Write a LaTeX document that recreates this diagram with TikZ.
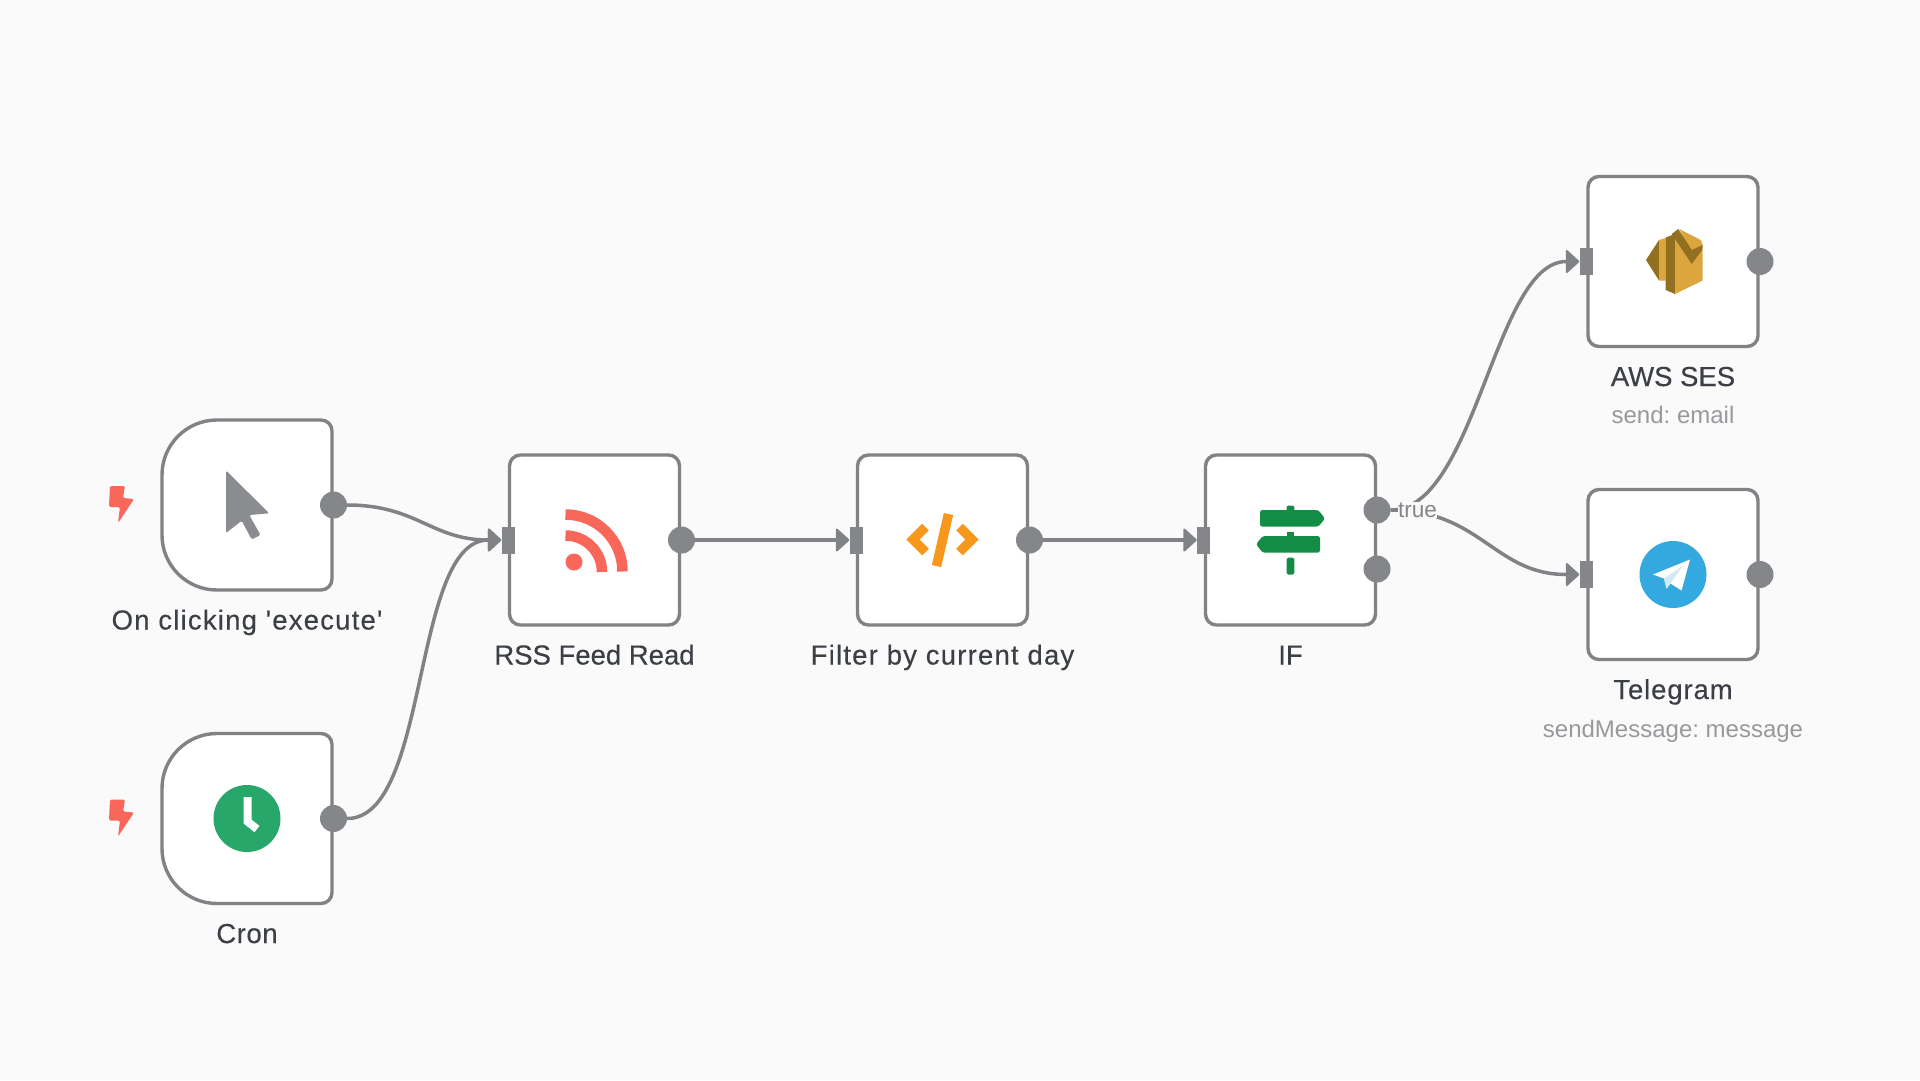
\documentclass[tikz,border=0pt]{standalone}
\usepackage{fontspec}
\setmainfont{Liberation Sans}
\newfontfamily\titlefont{Liberation Sans}[FakeBold=0.3]
\usetikzlibrary{arrows.meta}
\definecolor{bgc}{HTML}{FAFAFA}
\definecolor{linec}{HTML}{808285}
\definecolor{dotc}{HTML}{84868A}
\definecolor{txt}{HTML}{3C3F45}
\definecolor{subt}{HTML}{97999C}
\definecolor{boltc}{HTML}{F9675A}
\definecolor{greenc}{HTML}{28A76A}
\definecolor{ifg}{HTML}{138C45}
\definecolor{orangec}{HTML}{F7981D}
\definecolor{awsl}{HTML}{DCA63F}
\definecolor{awsd}{HTML}{93701F}
\definecolor{tgc}{HTML}{33A9E0}
\newcommand{\spaced}[2]{{\addfontfeature{LetterSpace=#1}#2}}
\tikzset{
  plainbox/.style={draw=linec,fill=white,line width=3.4pt,rounded corners=11pt,minimum width=170pt,minimum height=170pt,inner sep=0pt},
  ghostbox/.style={minimum width=170pt,minimum height=170pt,inner sep=0pt},
  trigshape/.style={draw=linec,fill=white,line width=3.4pt},
  outdot/.style={circle,fill=dotc,minimum size=27pt,inner sep=0pt},
  inrect/.style={rectangle,fill=dotc,minimum width=13pt,minimum height=27pt,inner sep=0pt},
  wire/.style={draw=linec,line width=3.5pt,-{Triangle[length=14pt,width=25pt,round,line width=2pt]}},
  title/.style={text=txt,font=\fontsize{27.5}{33}\titlefont\frenchspacing,inner sep=0pt,anchor=base},
  subtitle/.style={text=subt,font=\fontsize{24}{28}\selectfont\frenchspacing,inner sep=0pt,anchor=base},
  edgelabel/.style={text=dotc,font=\fontsize{22.6}{27}\selectfont,inner sep=0pt,fill=bgc,text height=15pt,text depth=1pt},
  boltpic/.pic={\fill[boltc,rounded corners=1.5pt] (-11,-18) -- (4,-18) -- (2,-6) -- (13,-5) -- (-3,19) -- (-1,3) -- (-12,3) -- cycle;}
}
\newcommand{\trigbox}[1]{%
  \begin{scope}[shift={(#1.center)}]
  \draw[trigshape] (-30,-85) -- (74,-85) .. controls (80.1,-85) and (85,-80.1) .. (85,-74) -- (85,74)
    .. controls (85,80.1) and (80.1,85) .. (74,85) -- (-30,85)
    .. controls (-60.4,85) and (-85,60.4) .. (-85,30) -- (-85,-30)
    .. controls (-85,-60.4) and (-60.4,-85) .. (-30,-85) -- cycle;
  \end{scope}}
\begin{document}
\begin{tikzpicture}[x=1pt,y=-1pt]
\useasboundingbox (0,0) rectangle (1920,1080);
\fill[bgc] (0,0) rectangle (1920,1080);

% node bodies
\node[ghostbox] (click) at (247,505) {};
\node[ghostbox] (cron) at (247,818.5) {};
\trigbox{click}
\trigbox{cron}
\node[plainbox] (rss) at (594.5,540) {};
\node[plainbox] (filter) at (942.5,540) {};
\node[plainbox] (ifn) at (1290.5,540) {};
\node[plainbox] (ses) at (1673,261.5) {};
\node[plainbox] (tg) at (1673,574.5) {};

% ports
\node[outdot] (clickOut) at (333.5,505) {};
\node[outdot] (cronOut) at (333.5,818.5) {};
\node[inrect] (rssIn) at (508,540) {};
\node[outdot] (rssOut) at (681.5,540) {};
\node[inrect] (filterIn) at (856,540) {};
\node[outdot] (filterOut) at (1029.5,540) {};
\node[inrect] (ifIn) at (1203.5,540) {};
\node[outdot] (ifTrue) at (1377,510) {};
\node[outdot] (ifFalse) at (1377,569) {};
\node[inrect] (sesIn) at (1586,261.5) {};
\node[outdot] (sesOut) at (1760,261.5) {};
\node[inrect] (tgIn) at (1586,574.5) {};
\node[outdot] (tgOut) at (1760,574.5) {};

% connectors
\draw[wire] (clickOut.east) .. controls +(70,0) and +(-70,0) .. (rssIn.west);
\draw[wire] (cronOut.east) .. controls +(83,0) and +(-90,0) .. (rssIn.west);
\draw[wire] (rssOut) -- (filterIn);
\draw[wire] (filterOut) -- (ifIn);
\draw[wire] (ifTrue.east) .. controls +(85,0) and +(-85,0) .. (sesIn.west);
\draw[wire] (ifTrue.east) .. controls +(90,0) and +(-85,0) .. (tgIn.west);
\node[edgelabel] (trueLabel) at (1417.5,510) {true};

% bolts
\pic at (121,504) {boltpic};
\pic at (121,817.5) {boltpic};

% cursor icon
\begin{scope}[shift={(click.center)}]
\fill[fill=dotc!95!white,rounded corners=1.5pt] (-21,-34.5) -- (22.3,8.3) -- (2.3,10) -- (13.5,30) -- (4.7,34.5) -- (-5.3,15.7) -- (-21,28) -- cycle;
\end{scope}

% clock icon
\fill[greenc] (cron.center) circle[radius=33.5];
\begin{scope}[shift={(cron.center)}]
\draw[white,line width=8pt,miter limit=4] (0.5,-21.5) -- (0.5,3) -- (10,10.5);
\end{scope}

% rss icon
\begin{scope}[shift={(rss.center)}]
\fill[boltc] (-20.5,22) circle[radius=8.5];
\draw[boltc,line width=10.5pt] (-29,-25.5) arc[start angle=90,end angle=0,radius=57,y radius=-57];
\draw[boltc,line width=10.5pt] (-29,-4.5) arc[start angle=90,end angle=0,radius=36.5,y radius=-36.5];
\end{scope}

% code icon
\begin{scope}[shift={(filter.center)}]
\draw[orangec,line width=9.5pt] (-17,-13) -- (-29.5,-0.5) -- (-17,12);
\draw[orangec,line width=9.5pt] (17,-13) -- (29.5,-0.5) -- (17,12);
\draw[orangec,line width=9.5pt] (6,-26) -- (-6,26);
\end{scope}

% if icon
\begin{scope}[shift={(ifn.center)}]
\fill[ifg,rounded corners=1.5pt] (-3.8,-34.5) rectangle (3.8,-28);
\fill[ifg,rounded corners=2.5pt] (-30.5,-30) -- (27.8,-30) -- (34.5,-21.5) -- (27.8,-13.3) -- (-30.5,-13.3) -- cycle;
\fill[ifg] (-3.8,-8.5) rectangle (3.8,-3);
\fill[ifg,rounded corners=2.5pt] (29.5,-4) -- (-27.8,-4) -- (-34.5,4.3) -- (-27.8,12.7) -- (29.5,12.7) -- cycle;
\fill[ifg,rounded corners=1.5pt] (-3.8,17.7) rectangle (3.8,34.5);
\end{scope}

% ses icon
\begin{scope}[shift={(ses.center)}]
\fill[awsd] (-27,-1.5) -- (-14,-21.5) -- (-14,19) -- cycle;
\fill[awsl] (-14,-21.5) -- (-7.3,-23.5) -- (-7.3,19) -- (-14,19) -- cycle;
\fill[awsd] (-7.3,-24) -- (2,-27.5) -- (2,32.5) -- (-7.3,28.5) -- cycle;
\fill[awsl] (2,-27.5) -- (29.7,-16.5) -- (29.7,19) -- (2,32.5) -- cycle;
\fill[awsl] (6.3,-32.5) -- (27.7,-21.5) -- (29.7,-16.5) -- (18,-10) -- cycle;
\fill[awsd] (-1.3,-27.5) -- (5.3,-32.5) -- (18.7,-11.5) -- (29.7,-16.5) -- (28.7,-11) -- (18.7,2.5) -- cycle;
\end{scope}

% telegram icon
\fill[tgc] (tg.center) circle[radius=33.5];
\begin{scope}[shift={(tg.center)}]
\fill[white] (-20,0) -- (17,-15) -- (8.5,16) -- (-2.5,9) -- (-6.5,14) -- (-9,4) -- cycle;
\fill[black!15!tgc!20!white] (-9,4) -- (10,-9) -- (-2.5,9) -- (-6.5,14) -- cycle;
\end{scope}

% labels
\node[title] (clickT) at (247,629.5) {\spaced{4.4}{On clicking 'execute'}};
\node[title] (cronT) at (247,943) {\spaced{2}{Cron}};
\node[title] (rssT) at (594.5,664.5) {RSS Feed Read};
\node[title] (filterT) at (942.5,664.5) {\spaced{4.4}{Filter by current day}};
\node[title] (ifT) at (1290.5,664.5) {IF};
\node[title] (sesT) at (1673,386) {AWS SES};
\node[subtitle] (sesS) at (1673,423) {send: email};
\node[title] (tgT) at (1673,699) {\spaced{3.2}{Telegram}};
\node[subtitle] (tgS) at (1673,737) {sendMessage: message};
\end{tikzpicture}
\end{document}
